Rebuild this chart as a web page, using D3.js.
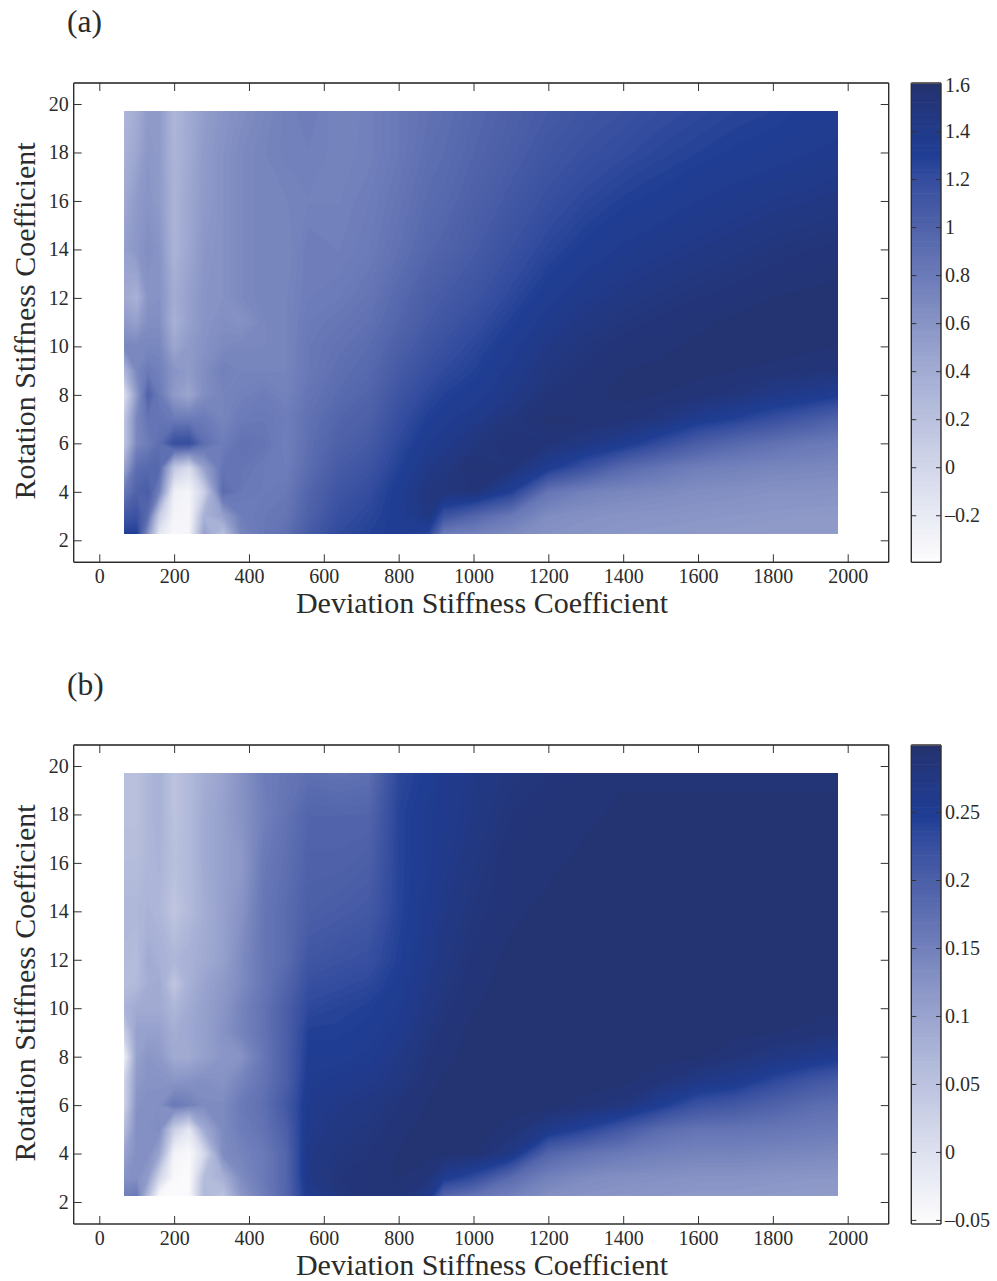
<!DOCTYPE html>
<html><head><meta charset="utf-8">
<script src="https://cdn.jsdelivr.net/npm/d3@7/dist/d3.min.js"></script>
<style>html,body{margin:0;background:#fff}svg{display:block}text{font-family:"Liberation Serif",serif;fill:#2b2b2b}</style>
</head><body><div id="c"></div>
<script>
const xGrid=[66,100,130,160,200,240,280,330,380,440,500,560,640,720,800,880,920,1000,1100,1200,1300,1400,1500,1600,1700,1800,1900,1974];
const yGrid=[19.71,18,16,14,12,11,10,9,8,7,6,5,4,3,2.26];
const xTicks=[0,200,400,600,800,1000,1200,1400,1600,1800,2000];
const yTicks=[2,4,6,8,10,12,14,16,18,20];
const barTicksA=[-0.2,0,0.2,0.4,0.6,0.8,1,1.2,1.4,1.6];
const barTicksB=[-0.05,0,0.05,0.1,0.15,0.2,0.25];
const rangeA=[-0.396,1.6];
const rangeB=[-0.053,0.2993];
const colorStops=[0,.1,.2,.3,.4,.5,.6,.7,.8,.85,.9,1];
const colorValues=["#fdfdfe","#e8eaf3","#d2d6e9","#bac1de","#a2acd3","#8894c5","#6b7ab8","#5063aa","#354d9f","#1f3f94","#213a8a","#24336f"];
const columnsA=[
[.3,.35,.42,.5,.42,.55,.7,.3,-.1,.15,.15,.45,.8,1.1,1.3],
[.4,.45,.55,.58,.35,.5,.7,.7,.55,.7,.7,.9,1,1.15,1.3],
[.55,.58,.6,.65,.6,.65,.7,.8,1,.85,.78,.95,1.05,.9,.6],
[.55,.55,.55,.6,.62,.65,.7,.75,.8,.85,.9,.95,.75,.1,-.15],
[.3,.32,.33,.33,.4,.35,.45,.6,.55,.8,1.18,.15,-.25,-.3,-.35],
[.42,.42,.45,.45,.5,.5,.55,.55,.45,.8,1.2,-.05,-.3,-.33,-.3],
[.52,.55,.55,.58,.6,.6,.62,.65,.65,.8,.9,.5,.05,.35,.5],
[.6,.62,.62,.62,.62,.65,.68,.75,.72,.72,.78,.85,.92,.5,.2],
[.65,.68,.68,.68,.68,.62,.7,.72,.75,.8,.88,.85,.82,.78,.72],
[.7,.72,.72,.72,.72,.7,.7,.72,.78,.82,.85,.8,.8,.82,.82],
[.75,.75,.72,.7,.72,.72,.72,.72,.74,.78,.76,.78,.82,.85,.9],
[.78,.76,.74,.78,.78,.8,.82,.82,.85,.88,.9,.92,.98,1.02,1.08],
[.72,.73,.74,.76,.8,.84,.87,.9,.93,.98,1.02,1.07,1.13,1.18,1.22],
[.75,.75,.78,.8,.85,.88,.92,.95,.99,1.03,1.08,1.14,1.2,1.25,1.28],
[.82,.82,.85,.88,.95,.98,1.03,1.08,1.13,1.18,1.23,1.28,1.33,1.33,1.32],
[.88,.9,.93,.97,1.05,1.08,1.13,1.18,1.24,1.3,1.36,1.42,1.5,1.45,1.25],
[.9,.92,.95,1,1.08,1.12,1.17,1.22,1.28,1.34,1.4,1.47,1.5,1.15,.78],
[.96,.98,1.02,1.07,1.14,1.19,1.24,1.28,1.33,1.4,1.48,1.56,1.52,.98,.75],
[1.02,1.05,1.1,1.16,1.24,1.29,1.34,1.38,1.42,1.5,1.55,1.52,1.3,.82,.68],
[1.08,1.12,1.18,1.25,1.34,1.39,1.44,1.48,1.52,1.57,1.52,1.34,.85,.66,.62],
[1.13,1.17,1.24,1.32,1.41,1.46,1.5,1.53,1.55,1.56,1.45,1.15,.74,.63,.6],
[1.16,1.21,1.29,1.37,1.46,1.5,1.54,1.56,1.57,1.54,1.36,.95,.7,.61,.58],
[1.2,1.25,1.32,1.41,1.49,1.53,1.55,1.57,1.56,1.48,1.2,.85,.68,.6,.57],
[1.23,1.28,1.36,1.44,1.52,1.55,1.57,1.57,1.54,1.36,1.05,.77,.65,.59,.56],
[1.26,1.31,1.39,1.47,1.54,1.57,1.58,1.56,1.5,1.28,.95,.74,.64,.58,.55],
[1.28,1.33,1.42,1.5,1.56,1.58,1.58,1.55,1.42,1.18,.88,.71,.62,.57,.54],
[1.31,1.36,1.44,1.52,1.57,1.58,1.57,1.53,1.38,1.08,.82,.7,.62,.56,.54],
[1.32,1.38,1.46,1.53,1.58,1.58,1.56,1.52,1.32,1,.8,.69,.61,.56,.54]];
const columnsB=[
[.055,.055,.06,.07,.065,.06,.075,.03,-.03,.02,.02,.06,.1,.125,.15],
[.055,.055,.06,.07,.06,.065,.09,.105,.105,.115,.125,.13,.13,.13,.16],
[.07,.07,.07,.075,.09,.085,.09,.105,.12,.125,.13,.13,.13,.11,.06],
[.08,.08,.075,.07,.08,.09,.09,.105,.115,.125,.13,.135,.1,.02,-.045],
[.05,.05,.055,.045,.07,.045,.07,.085,.09,.12,.16,.03,-.035,-.045,-.05],
[.065,.065,.065,.065,.08,.08,.09,.095,.09,.125,.15,-.01,-.045,-.048,-.045],
[.085,.09,.09,.085,.09,.1,.105,.105,.105,.13,.135,.09,.01,.06,.07],
[.1,.105,.105,.105,.105,.115,.12,.125,.12,.125,.135,.135,.135,.08,.05],
[.125,.125,.115,.125,.135,.135,.145,.145,.125,.145,.16,.155,.145,.135,.12],
[.155,.15,.16,.165,.165,.165,.17,.17,.165,.17,.175,.17,.16,.16,.155],
[.165,.17,.175,.18,.18,.19,.2,.2,.2,.2,.21,.2,.19,.19,.19],
[.175,.19,.195,.2,.215,.225,.235,.245,.25,.255,.26,.265,.27,.27,.26],
[.17,.19,.195,.205,.22,.23,.24,.245,.25,.26,.27,.275,.28,.285,.28],
[.175,.19,.2,.21,.225,.235,.245,.25,.255,.265,.275,.28,.285,.29,.29],
[.235,.24,.24,.24,.245,.25,.255,.26,.27,.275,.285,.29,.293,.293,.29],
[.25,.255,.255,.26,.265,.27,.275,.28,.285,.29,.293,.295,.295,.285,.265],
[.26,.262,.265,.27,.275,.278,.282,.287,.29,.293,.295,.295,.295,.255,.19],
[.27,.272,.277,.282,.287,.29,.292,.295,.295,.295,.295,.295,.293,.23,.17],
[.28,.285,.29,.29,.295,.295,.295,.295,.295,.295,.295,.29,.27,.18,.15],
[.285,.29,.29,.295,.295,.295,.295,.295,.295,.295,.295,.265,.19,.148,.13],
[.29,.29,.295,.295,.295,.295,.295,.295,.295,.295,.29,.24,.17,.135,.125],
[.29,.295,.295,.295,.295,.295,.295,.295,.295,.295,.28,.21,.158,.13,.122],
[.29,.295,.295,.295,.295,.295,.295,.295,.295,.285,.25,.18,.15,.128,.12],
[.29,.295,.295,.295,.295,.295,.295,.295,.295,.27,.22,.168,.145,.125,.117],
[.29,.295,.295,.295,.295,.295,.295,.295,.285,.26,.21,.168,.145,.125,.117],
[.29,.295,.295,.295,.295,.295,.295,.293,.275,.235,.195,.165,.142,.122,.115],
[.29,.295,.295,.295,.295,.295,.295,.29,.265,.215,.18,.16,.14,.12,.113],
[.29,.295,.295,.295,.295,.295,.293,.285,.255,.205,.175,.157,.137,.12,.112]];
const xTitle="Deviation Stiffness Coefficient";
const yTitle="Rotation Stiffness Coefficient";

const W=997,H=1281;
const svg=d3.select("#c").append("svg").attr("width",W).attr("height",H);
const LEVELS=100;
const fmt=v=>String(v).replace("-","\u2013");

function panel(label,labelY,top,bottom,columns,range,barTicks){
  const g=svg.append("g");
  const left=73.7,right=888.7,barL=911.3,barR=941;
  const y20=top+21,y2=bottom-22;
  const xS=d3.scaleLinear().domain([0,2000]).range([99.3,847.7]);
  const yS=d3.scaleLinear().domain([2,20]).range([y2,y20]);
  const n=xGrid.length,m=yGrid.length;
  const values=[];
  for(let j=0;j<m;j++)for(let i=0;i<n;i++)values.push(columns[i][j]);
  const color=d3.scaleLinear().domain(colorStops.map(t=>range[0]+t*(range[1]-range[0]))).range(colorValues).interpolate(d3.interpolateRgb);
  const step=(range[1]-range[0])/LEVELS;
  const thresholds=d3.range(LEVELS).map(k=>range[0]+k*step);
  const xIdx=d3.scaleLinear().domain(xGrid.map((_,i)=>i+.5)).range(xGrid).clamp(true);
  const yIdx=d3.scaleLinear().domain(yGrid.map((_,j)=>j+.5)).range(yGrid).clamp(true);
  const path=d3.geoPath(d3.geoTransform({point(a,b){this.stream.point(xS(xIdx(a)),yS(yIdx(b)));}}));
  const contours=d3.contours().size([n,m]).smooth(true).thresholds(thresholds)(values);
  const clipId="clip"+label[1];
  g.append("clipPath").attr("id",clipId).append("rect")
    .attr("x",xS(xGrid[0])).attr("y",yS(yGrid[0])).attr("width",xS(xGrid[n-1])-xS(xGrid[0])).attr("height",yS(yGrid[m-1])-yS(yGrid[0]));
  g.append("g").attr("clip-path",`url(#${clipId})`).selectAll("path").data(contours).join("path")
    .attr("d",path).attr("fill",d=>color(d.value+step/2));

  const stroke=(sel)=>{sel.select(".domain").attr("stroke","#2e2e2e").attr("stroke-width",1.4);
    sel.selectAll(".tick line").attr("stroke","#333").attr("stroke-width",1);
    sel.selectAll("text").attr("font-size",20).style("font-family",'"Liberation Serif",serif');};
  const xA=d3.axisBottom(xS).tickValues(xTicks).tickFormat(d3.format("d")).tickSizeInner(-8).tickSizeOuter(0).tickPadding(7);
  const yA=d3.axisLeft(yS).tickValues(yTicks).tickFormat(d3.format("d")).tickSizeInner(-8).tickSizeOuter(0).tickPadding(5);
  const extendX=s=>s.select(".domain").attr("d",`M${left},0H${right}`);
  const extendY=s=>s.select(".domain").attr("d",`M0,${top}V${bottom}`);
  g.append("g").attr("transform",`translate(0,${bottom})`).call(xA).call(stroke).call(extendX);
  g.append("g").attr("transform",`translate(${left},0)`).call(yA).call(stroke).call(extendY);
  g.append("g").attr("transform",`translate(0,${top})`).call(d3.axisTop(xS).tickValues(xTicks).tickFormat("").tickSizeInner(-8).tickSizeOuter(0)).call(stroke).call(extendX).select(".domain").attr("stroke","#555").attr("stroke-width",1.8);
  g.append("g").attr("transform",`translate(${right},0)`).call(d3.axisRight(yS).tickValues(yTicks).tickFormat("").tickSizeInner(-8).tickSizeOuter(0)).call(stroke).call(extendY);

  // colour bar
  const bS=d3.scaleLinear().domain(range).range([bottom,top]);
  const bar=g.append("g");
  bar.selectAll("rect").data(thresholds).join("rect")
    .attr("x",barL).attr("width",barR-barL)
    .attr("y",d=>bS(d+step)).attr("height",d=>bS(d)-bS(d+step)+.6)
    .attr("fill",d=>color(d+step/2));
  const bRight=d3.axisRight(bS).tickValues(barTicks).tickFormat(fmt).tickSizeInner(-5).tickSizeOuter(0).tickPadding(4);
  const bLeft=d3.axisLeft(bS).tickValues(barTicks).tickFormat("").tickSizeInner(-5).tickSizeOuter(0);
  const bx=g.append("g").attr("transform",`translate(${barR},0)`).call(bRight).call(stroke);
  bx.select(".domain").attr("d",`M0,${top}V${bottom}`);
  bx.selectAll(".tick text").filter(d=>d===range[1]).attr("dy","0.42em");
  const bl=g.append("g").attr("transform",`translate(${barL},0)`).call(bLeft).call(stroke);
  bl.select(".domain").attr("d",`M0,${top}V${bottom}`);
  g.append("path").attr("d",`M${barL},${top}H${barR}`).attr("stroke","#555").attr("stroke-width",1.8);
  g.append("path").attr("d",`M${barL},${bottom}H${barR}`).attr("stroke","#2e2e2e").attr("stroke-width",1.4);

  g.append("text").attr("x",482).attr("y",bottom+51).attr("text-anchor","middle").attr("font-size",30).text(xTitle);
  g.append("text").attr("transform",`translate(35,${top+238}) rotate(-90)`).attr("text-anchor","middle").attr("font-size",30).text(yTitle);
  g.append("text").attr("x",67).attr("y",labelY).attr("font-size",31.5).text(label);
}
panel("(a)",32,83,562.3,columnsA,rangeA,barTicksA);
panel("(b)",695,745,1224,columnsB,rangeB,barTicksB);
</script></body></html>
